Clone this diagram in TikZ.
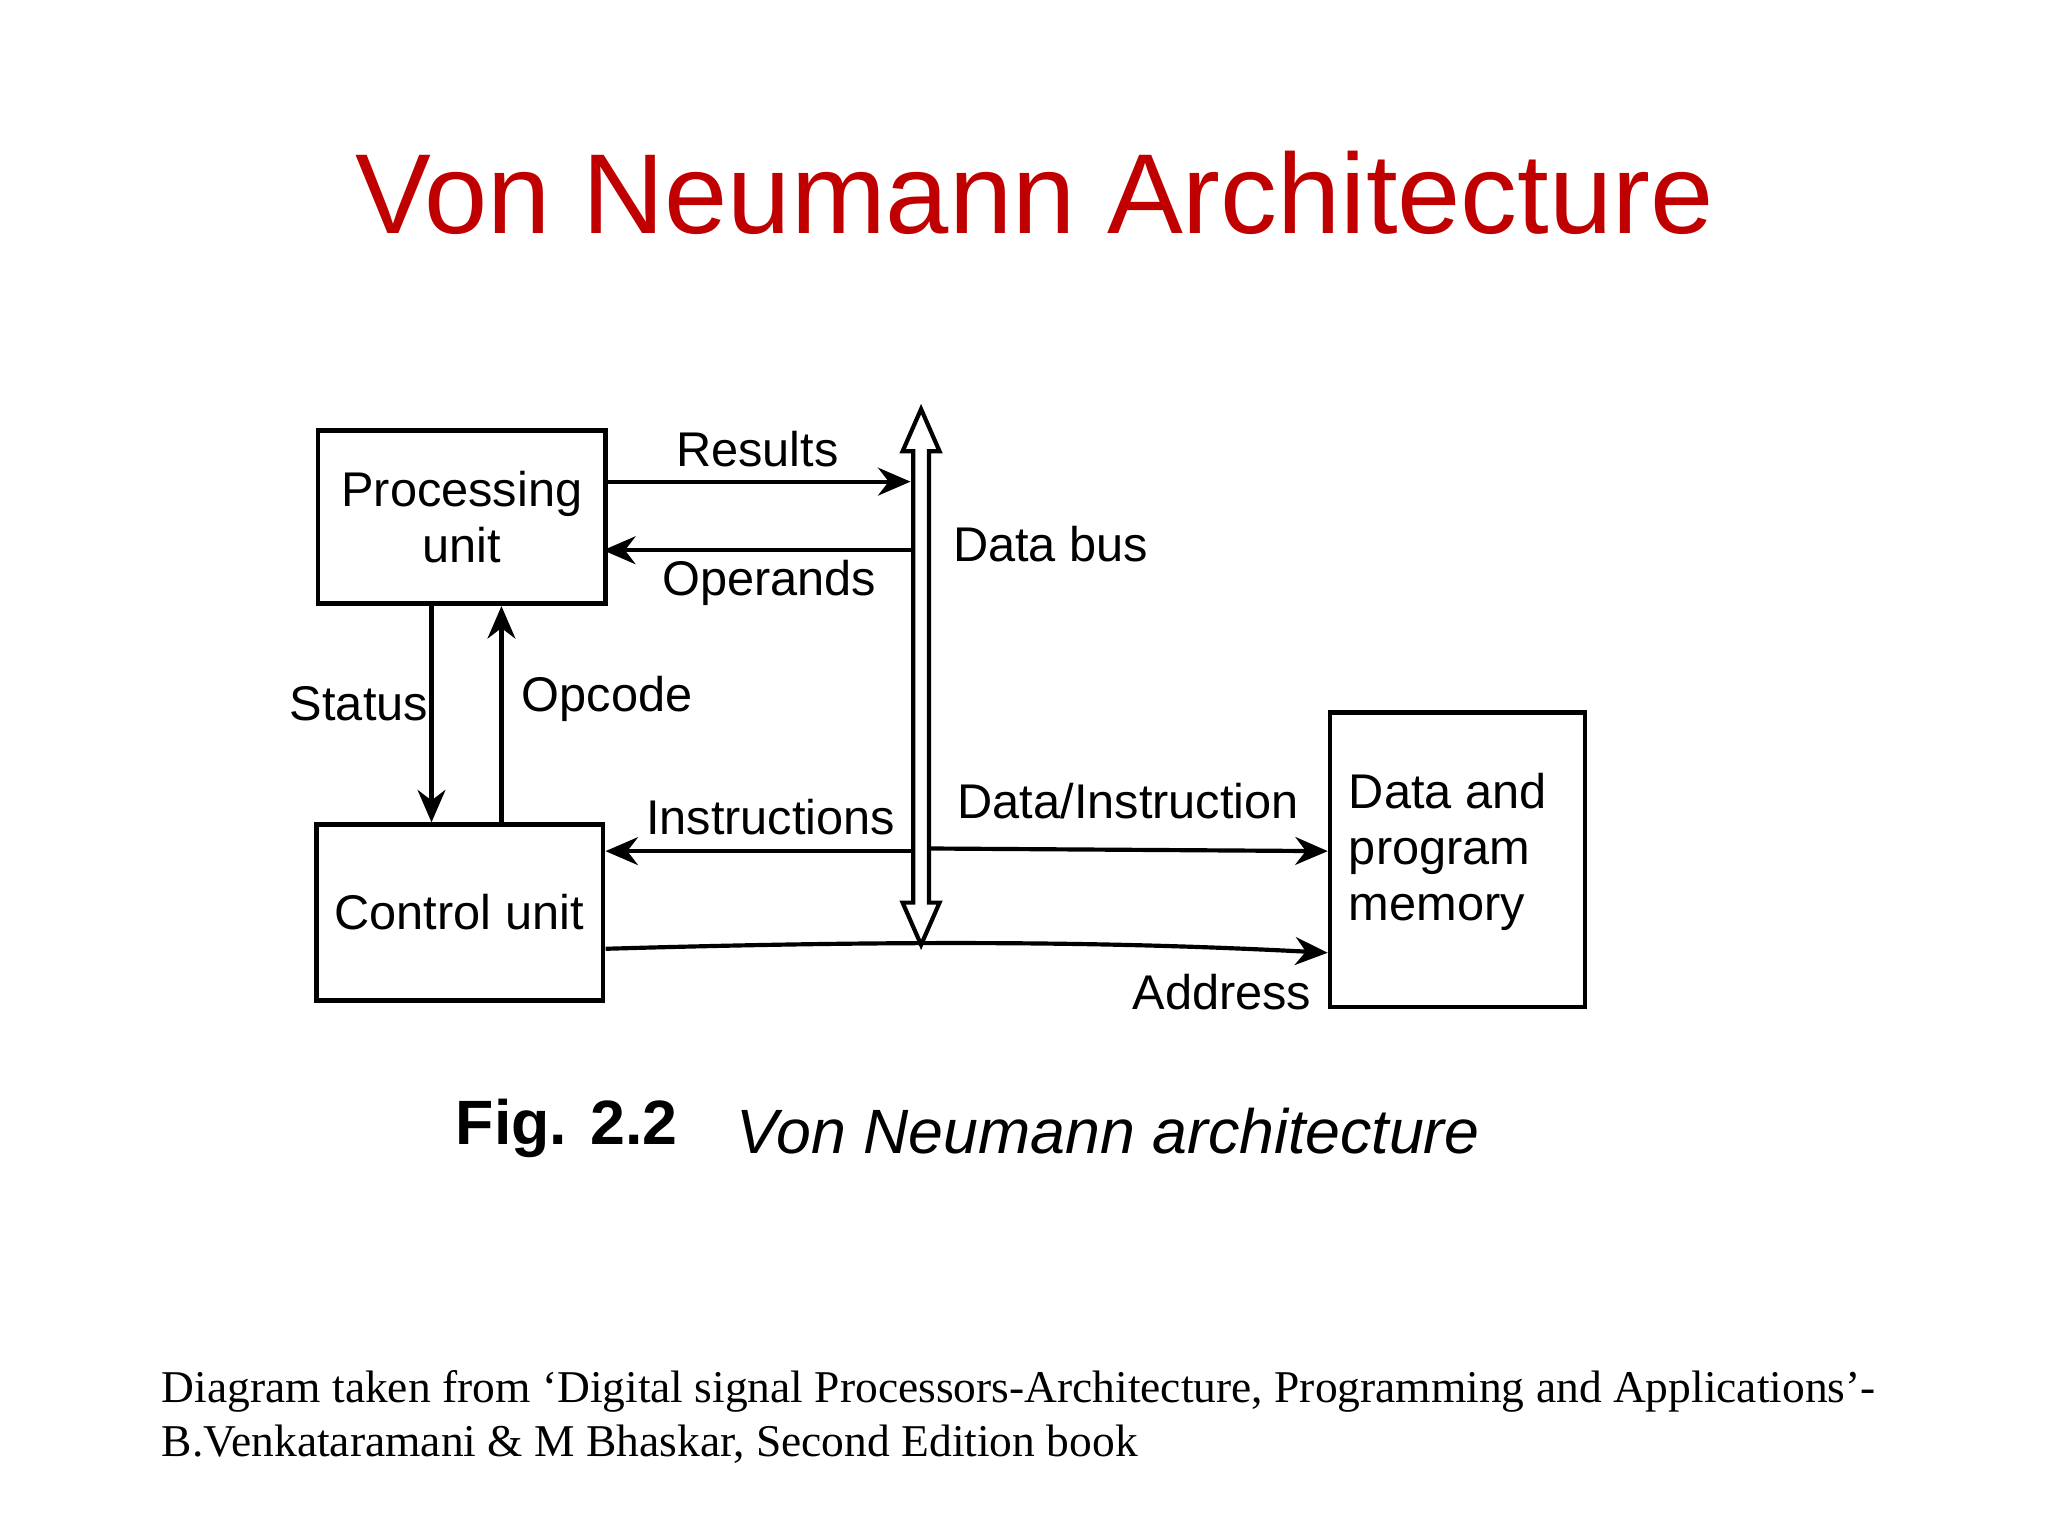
\documentclass[tikz,border=0pt]{standalone}
\usepackage{fontspec}
\setmainfont{Liberation Sans}
\newfontfamily\serifx{Liberation Serif}
\usetikzlibrary{arrows.meta}
\definecolor{titlered}{RGB}{192,0,0}
\begin{document}
\begin{tikzpicture}[x=0.01cm,y=-0.01cm,
  box/.style={draw,line width=1pt,inner sep=0pt},
  lab/.style={font=\fontsize{10.5}{12}\selectfont,inner sep=1pt},
  arr/.style={line width=0.9pt,-{Stealth[length=7pt,width=6pt]}}]
\useasboundingbox (0,0) rectangle (1552,1164);
\node[font=\fontsize{24.5}{30}\selectfont,text=titlered] (title) at (784,146) {Von Neumann Architecture};
% boxes
\node[box,minimum height=1.31cm,minimum width=2.18cm] (pu) at (350,392) {};
\node[lab,align=center] (put) at (350,392) {Processing\\unit};
\node[box,minimum width=2.17cm,minimum height=1.33cm] (cu) at (348.5,691.5) {};
\node[lab] (cut) at (348,691) {Control unit};
\node[box,minimum width=1.93cm,minimum height=2.23cm] (mem) at (1104.5,651.5) {};
\node[lab,align=left,anchor=north west] (memt) at (1018,582) {Data and\\program\\memory};
% bus
\coordinate (bt) at (698,310);
\coordinate (bb) at (698,716);
\draw[line width=0.9pt,fill=white] (bt) -- (712,342) -- (704,342) -- (704,684) -- (712,684) -- (bb) -- (684,684) -- (692,684) -- (692,342) -- (684,342) -- cycle;
\node[lab,anchor=west] (db) at (718,412) {Data bus};
% arrows
\coordinate (r1) at (460,365); \coordinate (r2) at (690,365);
\draw[arr] (r1) -- (r2);
\node[lab] (res) at (574,340) {Results};
\coordinate (o1) at (691,417); \coordinate (o2) at (457,417);
\draw[arr] (o1) -- (o2);
\node[lab] (ope) at (583,442) {Operands};
\draw[arr] (pu.south -| 327,0) -- (cu.north -| 327,0);
\node[lab] (st) at (272,533) {Status};
\draw[arr] (cu.north -| 380,0) -- (pu.south -| 380,0);
\node[lab] (op) at (460,530) {Opcode};
\coordinate (i1) at (691,645);
\draw[arr] (i1) -- (cu.east |- i1);
\node[lab] (ins) at (584,619) {Instructions};
\coordinate (d1) at (705,643);
\draw[arr] (d1) -- (mem.west |- 0,645);
\node[lab] (dat) at (855,607) {Data/Instruction};
\coordinate (a1) at (459,719);
\draw[arr] (a1) .. controls (700,712) and (850,714) .. (mem.west |- 0,722);
\node[lab] (adr) at (926,752) {Address};
% caption
\node[anchor=west,font=\fontsize{13.5}{16}\selectfont\bfseries] (fig) at (333,855) {Fig. 2.2};
\node[anchor=west,font=\fontsize{13.5}{16}\selectfont\itshape] (figt) at (546,857) {Von Neumann architecture};
\node[anchor=north west,align=left,font=\serifx\fontsize{9.8}{11.7}\selectfont,inner sep=0pt] (src) at (122,1038) {Diagram taken from ‘Digital signal Processors-Architecture, Programming and Applications’-\\B.Venkataramani \& M Bhaskar, Second Edition book};
\end{tikzpicture}
\end{document}
